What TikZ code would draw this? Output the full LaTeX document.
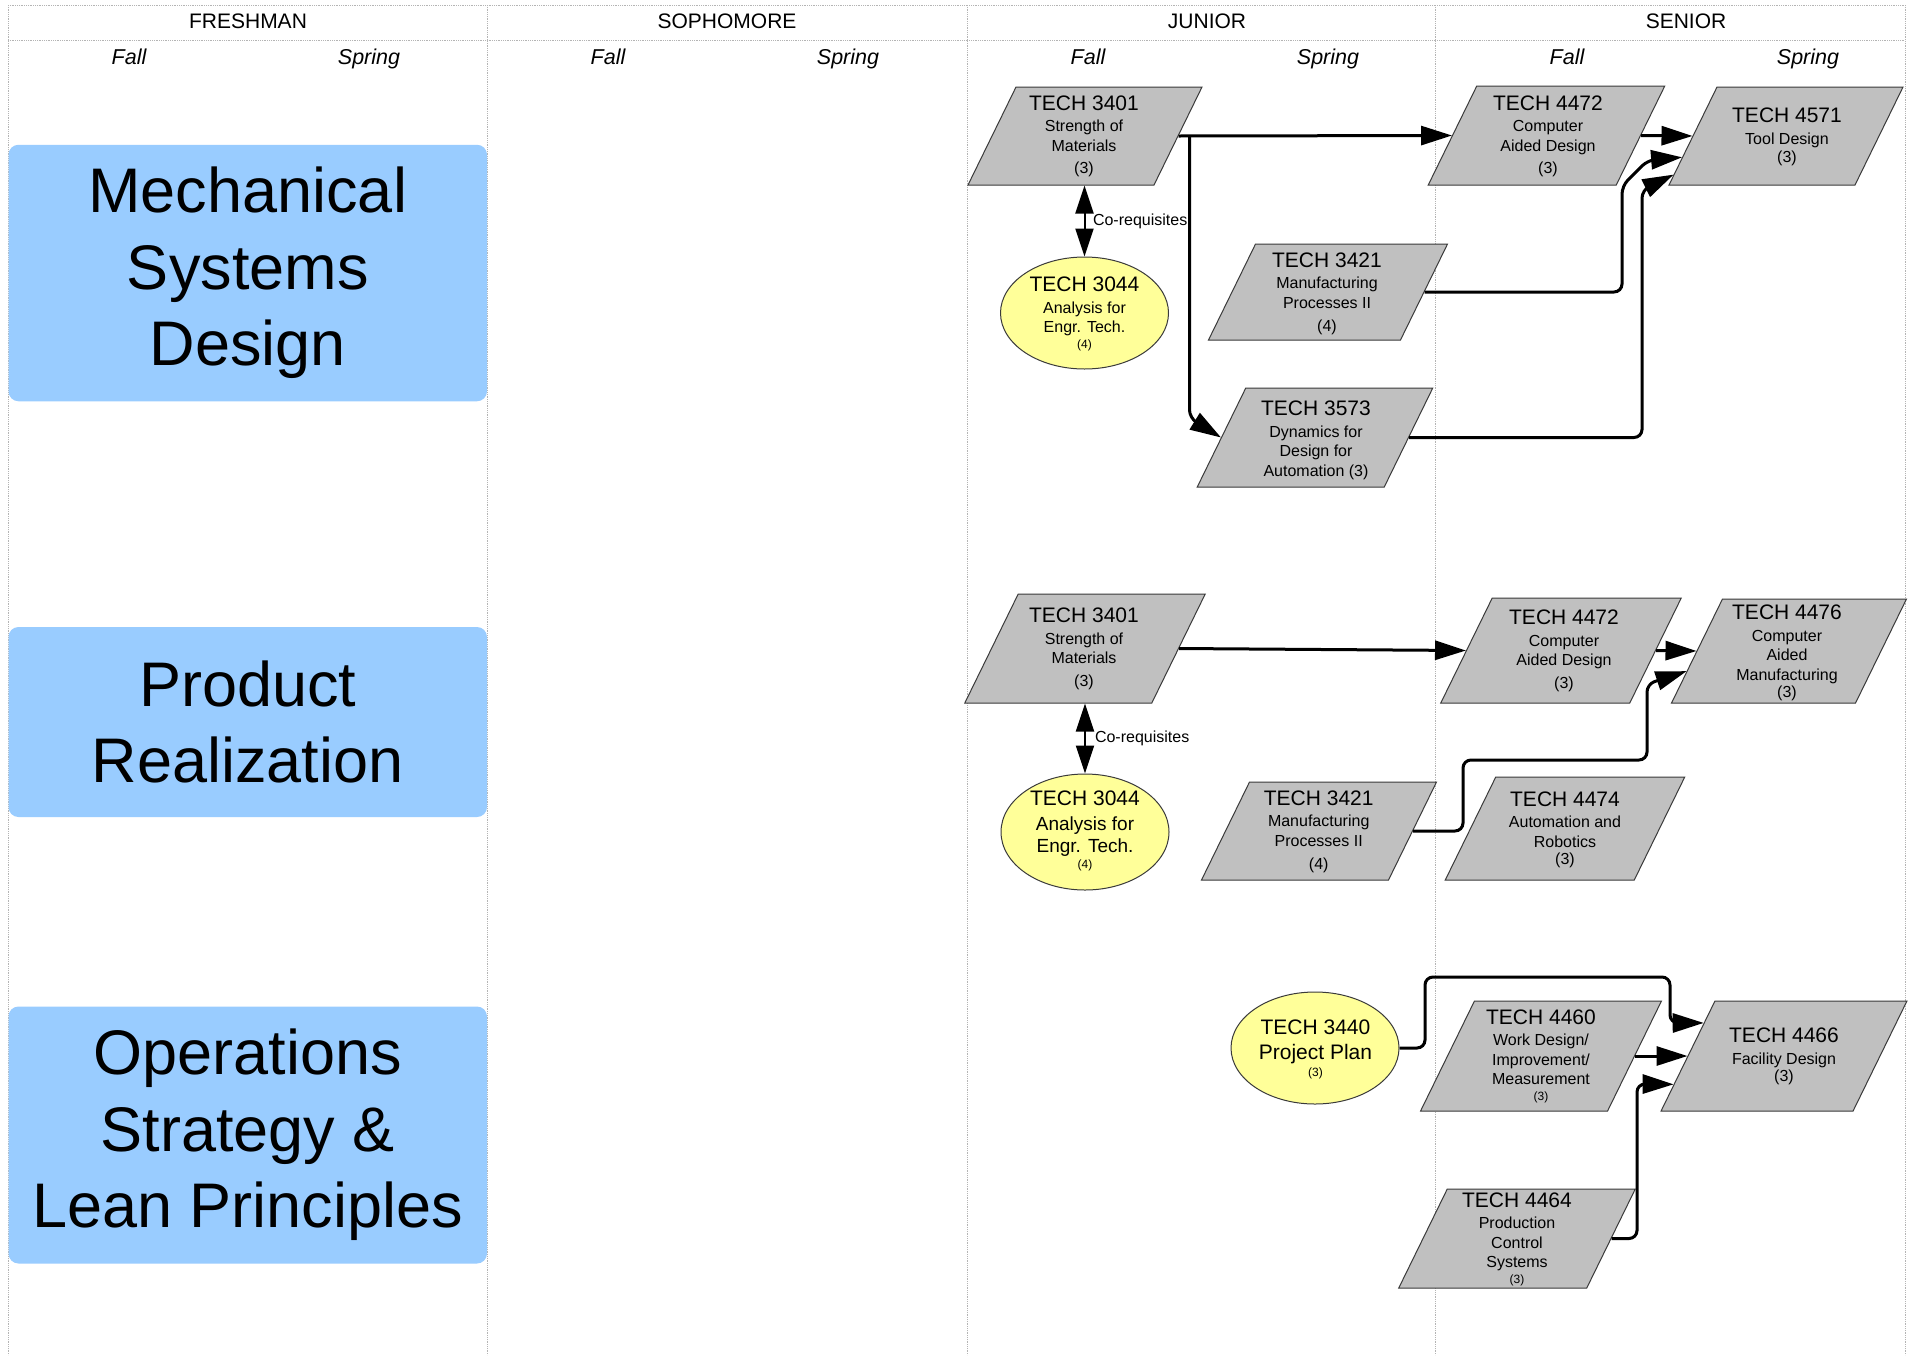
\documentclass[tikz,border=0pt]{standalone}
\usepackage{fontspec}
\setmainfont{Liberation Sans}
\usetikzlibrary{shapes.geometric,arrows.meta,calc}
\definecolor{paragray}{HTML}{C0C0C0}
\definecolor{edgegray}{HTML}{3A3A3A}
\definecolor{ellfill}{HTML}{FFFF99}
\definecolor{boxblue}{HTML}{99CCFF}
\definecolor{gridgray}{HTML}{B4B4B4}
\newcommand\cTitle[1]{{\fontsize{21}{24}\selectfont #1}}
\newcommand\cSmall[1]{{\fontsize{12}{14}\selectfont #1}}
\begin{document}
\begin{tikzpicture}[x=1pt,y=-1pt,
  para/.style 2 args={draw=edgegray, fill=paragray, line width=1pt, xslant=0.49, minimum width=#1, minimum height=#2, inner sep=0pt},
  ell/.style 2 args={ellipse, draw=edgegray, fill=ellfill, line width=1pt, minimum width=#1, minimum height=#2, inner sep=0pt},
  ctext/.style={anchor=north, align=center, inner sep=0pt, font=\fontsize{16}{19.5}\selectfont},
  trackbox/.style={rounded corners=10pt, fill=boxblue, inner sep=0pt, align=center, font=\fontsize{63}{76.5}\selectfont},
  conn/.style={line width=3pt, rounded corners=8pt, -{Triangle[length=31pt,width=19pt]}},
  coreq/.style={line width=2pt, {Triangle[length=28pt,width=18pt]}-{Triangle[length=28pt,width=18pt]}},
  lbl/.style={font=\fontsize{16}{19}\selectfont, inner sep=0pt, anchor=west},
  gridln/.style={gridgray, line width=0.8pt, densely dotted},
  hdr/.style={font=\fontsize{21}{24}\selectfont, anchor=base, inner sep=0pt},
  sem/.style={font=\fontsize{21.5}{24}\selectfont\itshape, anchor=base, inner sep=0pt},
]
\useasboundingbox (0,0) rectangle (1908,1355);
\fill[white] (0,0) rectangle (1908,1355);

% grid
\draw[gridln] (8,5) -- (1905,5);
\draw[gridln] (8,40) -- (1905,40);
\foreach \gx in {8,487,967,1435,1905} {\draw[gridln] (\gx,5) -- (\gx,1355);}

% headers
\node[hdr] (yFr) at (248,28.6) {FRESHMAN};
\node[hdr] (ySo) at (727,28.6) {SOPHOMORE};
\node[hdr] (yJu) at (1207,28.6) {JUNIOR};
\node[hdr] (ySe) at (1686,28.6) {SENIOR};
\node[sem] (s1) at (129,64) {Fall};
\node[sem] (s2) at (369,64) {Spring};
\node[sem] (s3) at (608,64) {Fall};
\node[sem] (s4) at (848,64) {Spring};
\node[sem] (s5) at (1088,64) {Fall};
\node[sem] (s6) at (1328,64) {Spring};
\node[sem] (s7) at (1567,64) {Fall};
\node[sem] (s8) at (1808,64) {Spring};

% tracks
\node[trackbox, minimum width=478.5pt, minimum height=256.5pt] (mech) at (247.75,273) {Mechanical\\Systems\\Design};
\node[trackbox, minimum width=478.5pt, minimum height=190pt] (prod) at (247.75,722) {Product\\Realization};
\node[trackbox, minimum width=478.5pt, minimum height=257pt] (oper) at (247.75,1135) {Operations\\Strategy \&\\Lean Principles};

% Mechanical Systems Design
\node[para={186pt}{98pt}] (mA) at (1085,136) {};
\node[ctext] (mAt) at (1084,95.2) {\cTitle{TECH 3401}\\[2pt] Strength of\\ Materials\\[3pt] (3)};
\node[ell={168pt}{112pt}] (mB) at (1084.5,313) {};
\node[ctext] (mBt) at (1084.5,277) {\cTitle{TECH 3044}\\[2pt] Analysis for\\ Engr. Tech.\\[-4pt] \cSmall{(4)}};
\node[para={188pt}{99pt}] (mC) at (1546.5,135.5) {};
\node[ctext] (mCt) at (1548,95.2) {\cTitle{TECH 4472}\\[2pt] Computer\\ Aided Design\\[3pt] (3)};
\node[para={186pt}{98pt}] (mD) at (1786,136) {};
\node[ctext] (mDt) at (1787,107.9) {\cTitle{TECH 4571}\\[2pt] Tool Design\\[-1pt] (3)};
\node[para={192pt}{96pt}] (mE) at (1328,292) {};
\node[ctext] (mEt) at (1327,252.2) {\cTitle{TECH 3421}\\[2pt] Manufacturing\\ Processes II\\[4pt] (4)};
\node[para={187pt}{99pt}] (mF) at (1315,437.5) {};
\node[ctext] (mFt) at (1316,401) {\cTitle{TECH 3573}\\[2pt] Dynamics for\\ Design for\\ Automation (3)};

\draw[conn] (mA.east) -- (mC.west);
\draw[conn] ($(mA.east)+(11,0)$) -- ++(0,282) -- (mF.west);
\draw[conn] (mC.east) -- (mD.west);
\draw[conn] (mE.east) -- (1622,292) -- (1622,186) -- (1648,160) -- ($(mD.south west)!0.285!(mD.north west)$);
\draw[conn] (mF.east) -- (1642,437.5) -- (1642,190) -- ($(mD.south west)!0.11!(mD.north west)$);
\draw[coreq] (mA.south -| mB.north) -- (mB.north) node[lbl, midway, xshift=7.5pt] (cr1) {Co-requisites};

% Product Realization
\node[para={187pt}{109pt}] (pA) at (1085,648.5) {};
\node[ctext] (pAt) at (1084,607.9) {\cTitle{TECH 3401}\\[2pt] Strength of\\ Materials\\[3pt] (3)};
\node[ell={168pt}{116pt}] (pB) at (1085,832) {};
\node[ctext, font=\fontsize{19}{21.7}\selectfont] (pBt) at (1085,791) {\cTitle{TECH 3044}\\[3pt] Analysis for\\ Engr. Tech.\\[-5pt] \cSmall{(4)}};
\node[para={189pt}{105pt}] (pC) at (1561,650.5) {};
\node[ctext] (pCt) at (1564,609.9) {\cTitle{TECH 4472}\\[2pt] Computer\\ Aided Design\\[3pt] (3)};
\node[para={184pt}{104pt}] (pD) at (1789,651) {};
\node[ctext] (pDt) at (1787,604.9) {\cTitle{TECH 4476}\\[2pt] Computer\\ Aided\\ Manufacturing\\[-2pt] (3)};
\node[para={187pt}{98pt}] (pE) at (1319,831) {};
\node[ctext] (pEt) at (1318.7,790.2) {\cTitle{TECH 3421}\\[2pt] Manufacturing\\ Processes II\\[4pt] (4)};
\node[para={189pt}{103pt}] (pF) at (1565,828.5) {};
\node[ctext] (pFt) at (1565,791.2) {\cTitle{TECH 4474}\\[2pt] Automation and\\ Robotics\\[-2pt] (3)};

\draw[conn] (pA.east) -- (pC.west);
\draw[conn] (pC.east) -- (pD.west);
\draw[conn] (pE.east) -- (1463,831) -- (1463,760) -- (1647,760) -- (1647,684) -- ($(pD.south west)!0.308!(pD.north west)$);
\draw[coreq] (pA.south -| pB.north) -- (pB.north) node[lbl, midway, xshift=9pt] (cr2) {Co-requisites};

% Operations Strategy & Lean Principles
\node[ell={168pt}{112pt}] (oA) at (1315,1048) {};
\node[ctext, font=\fontsize{21}{25}\selectfont] (oAt) at (1315.5,1019.5) {TECH 3440\\ Project Plan\\[-8pt] \cSmall{(3)}};
\node[para={187pt}{110pt}] (oB) at (1541,1056) {};
\node[ctext] (oBt) at (1541,1009.2) {\cTitle{TECH 4460}\\[2pt] Work Design/\\ Improvement/\\ Measurement\\[-4pt] \cSmall{(3)}};
\node[para={192pt}{110pt}] (oC) at (1784,1056) {};
\node[ctext] (oCt) at (1784,1027.9) {\cTitle{TECH 4466}\\[2pt] Facility Design\\[-2pt] (3)};
\node[para={188pt}{99pt}] (oD) at (1517,1238.5) {};
\node[ctext] (oDt) at (1517,1192.2) {\cTitle{TECH 4464}\\[2pt] Production\\ Control\\ Systems\\[-4pt] \cSmall{(3)}};

\draw[conn] (oA.east) -- (1425,1048) -- (1425,977) -- (1670,977) -- (1670,1023) -- ($(oC.south west)!0.798!(oC.north west)$);
\draw[conn] (oB.east) -- (oC.west);
\draw[conn] (oD.east) -- (1637,1238.5) -- (1637,1084) -- ($(oC.south west)!0.245!(oC.north west)$);
\end{tikzpicture}
\end{document}
